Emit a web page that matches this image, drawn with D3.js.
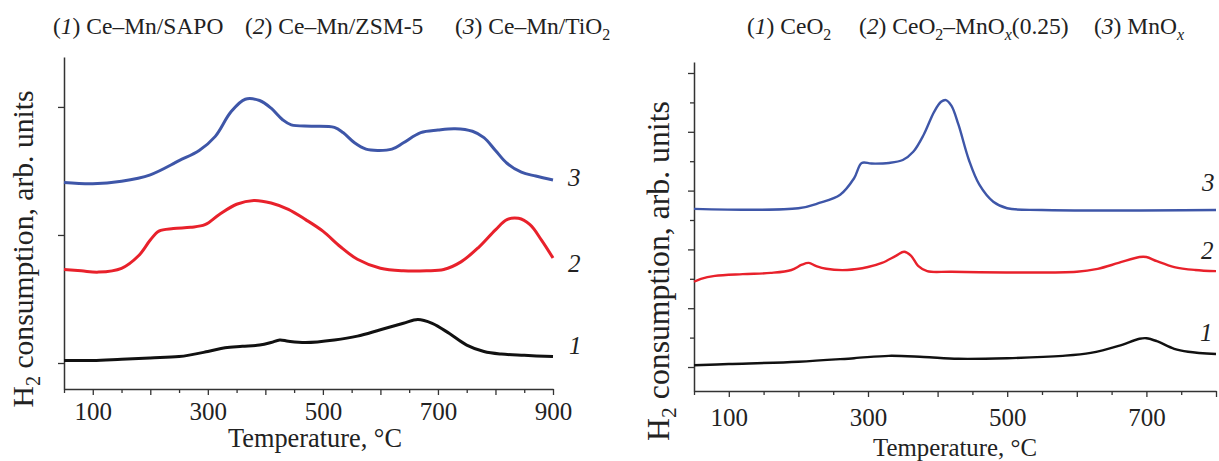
<!DOCTYPE html>
<html>
<head>
<meta charset="utf-8">
<script src="https://d3js.org/d3.v7.min.js"></script>
<style>
  html, body { margin: 0; padding: 0; background: #fff; }
  svg { display: block; font-family: "Liberation Serif", "Times New Roman", serif; }
</style>
</head>
<body>
<svg id="chart" width="1219" height="461"></svg>
<script>
// ---- Left panel: supported Ce–Mn catalysts (TPR-H2) ----
const leftTicks = [100, 300, 500, 700, 900];

const sapoTemp = [50, 100, 150, 200, 250, 300, 330, 360, 390, 410, 425, 440, 470, 520, 560, 600, 640, 665, 690, 720, 750, 780, 810, 850, 900];
const sapoSignal = [0.02, 0.02, 0.03, 0.04, 0.05, 0.09, 0.12, 0.13, 0.14, 0.16, 0.18, 0.17, 0.16, 0.18, 0.21, 0.26, 0.31, 0.34, 0.31, 0.23, 0.14, 0.09, 0.07, 0.06, 0.05];

const zsmTemp = [50, 80, 110, 150, 180, 200, 215, 240, 270, 295, 320, 350, 380, 410, 440, 470, 500, 530, 560, 600, 640, 680, 710, 740, 770, 800, 820, 840, 860, 880, 900];
const zsmSignal = [0.73, 0.72, 0.71, 0.74, 0.84, 0.96, 1.03, 1.05, 1.06, 1.08, 1.16, 1.24, 1.27, 1.25, 1.20, 1.12, 1.03, 0.91, 0.81, 0.74, 0.72, 0.72, 0.73, 0.79, 0.90, 1.04, 1.12, 1.13, 1.08, 0.96, 0.82];

const tioTemp = [50, 100, 150, 200, 250, 285, 313, 340, 365, 390, 410, 430, 445, 480, 520, 535, 555, 575, 595, 620, 640, 670, 700, 730, 760, 780, 800, 820, 845, 870, 900];
const tioSignal = [1.41, 1.40, 1.42, 1.47, 1.58, 1.66, 1.77, 1.96, 2.06, 2.05, 1.99, 1.90, 1.86, 1.85, 1.84, 1.80, 1.72, 1.67, 1.66, 1.67, 1.72, 1.80, 1.82, 1.83, 1.81, 1.76, 1.66, 1.56, 1.49, 1.46, 1.43];

// ---- Right panel: bulk oxides ----
const rightTicks = [100, 300, 500, 700];

const ceTemp = [50, 100, 200, 280, 330, 380, 430, 500, 580, 620, 660, 690, 700, 715, 740, 760, 800];
const ceSignal = [0.03, 0.05, 0.09, 0.15, 0.19, 0.17, 0.14, 0.15, 0.19, 0.24, 0.36, 0.48, 0.49, 0.44, 0.31, 0.26, 0.22];

const ceMnTemp = [50, 60, 80, 120, 160, 190, 205, 215, 225, 240, 270, 300, 320, 340, 352, 362, 372, 385, 420, 600, 630, 660, 690, 700, 715, 740, 770, 800];
const ceMnSignal = [1.45, 1.50, 1.55, 1.58, 1.60, 1.65, 1.74, 1.77, 1.72, 1.67, 1.65, 1.70, 1.77, 1.89, 1.96, 1.89, 1.72, 1.63, 1.62, 1.62, 1.67, 1.77, 1.87, 1.87, 1.80, 1.70, 1.65, 1.63];

const mnTemp = [50, 200, 230, 260, 280, 291, 305, 330, 350, 365, 380, 395, 405, 412, 420, 430, 445, 460, 480, 500, 550, 800];
const mnSignal = [2.69, 2.70, 2.79, 2.93, 3.21, 3.47, 3.46, 3.47, 3.52, 3.66, 3.95, 4.34, 4.51, 4.54, 4.44, 4.12, 3.52, 3.10, 2.81, 2.70, 2.67, 2.67];

const colors = { c1: "#111111", c2: "#e8212b", c3: "#3e56a8" };

const svg = d3.select("#chart");
const axisColor = "#333";

function zip(t, v) { return t.map((d, i) => [d, v[i]]); }

// Scale a text's font size so that its rendered length equals `target` px.
function fitText(sel, base, target) {
  sel.style("font-size", base + "px");
  const w = sel.node().getComputedTextLength();
  const fs = base * target / w;
  sel.style("font-size", fs + "px");
  sel.selectAll("tspan.sub").style("font-size", (fs * 0.68) + "px");
  return fs;
}

function drawPanel(cfg) {
  const g = svg.append("g");
  const x = d3.scaleLinear().domain(cfg.xDomain).range(cfg.xRange);
  const y = d3.scaleLinear().domain(cfg.yDomain).range(cfg.yRange);

  // x axis: minor ticks every 50, major every 100, labels every 200
  const xMinor = d3.range(cfg.xDomain[0], cfg.xDomain[1] + 1, 50);
  const xAxis = d3.axisBottom(x).tickValues(xMinor)
    .tickSize(0).tickFormat(d => cfg.xLabels.includes(d) ? d : "");
  const gx = g.append("g").attr("transform", `translate(0,${cfg.yRange[0]})`).call(xAxis);
  gx.select(".domain").attr("stroke", axisColor).attr("stroke-width", 1.5);
  gx.selectAll(".tick line")
    .attr("y2", d => d % 100 === 0 ? 6 : 4)
    .attr("stroke", axisColor).attr("stroke-width", 1.3);
  gx.selectAll(".tick text")
    .attr("y", cfg.xLabelOffset)
    .attr("fill", "#222")
    .style("font-size", cfg.tickFont + "px")
    .style("font-family", "Liberation Serif, serif");

  // y axis
  const yAxis = d3.axisLeft(y).tickValues(cfg.yTicks).tickSize(0).tickFormat("");
  const gy = g.append("g").attr("transform", `translate(${cfg.xRange[0]},0)`).call(yAxis);
  gy.select(".domain").attr("stroke", axisColor).attr("stroke-width", 1.5);
  gy.selectAll(".tick line")
    .attr("x2", d => cfg.yMajor(d) ? -6 : -4)
    .attr("stroke", axisColor).attr("stroke-width", 1.3);

  // curves
  const line = d3.line().x(d => x(d[0])).y(d => y(d[1])).curve(d3.curveCatmullRom.alpha(0.5));
  cfg.series.forEach(s => {
    g.append("path")
      .datum(zip(s.t, s.v))
      .attr("fill", "none")
      .attr("stroke", s.color)
      .attr("stroke-width", cfg.lineWidth)
      .attr("stroke-linejoin", "round")
      .attr("d", line);
    g.append("text")
      .attr("x", s.labelX).attr("y", s.labelY)
      .attr("fill", "#222")
      .style("font-size", "25px").style("font-style", "italic")
      .text(s.label);
  });

  // axis titles
  const xt = g.append("text")
    .attr("x", cfg.xTitle[0]).attr("y", cfg.xTitle[1])
    .attr("text-anchor", "middle").attr("fill", "#222")
    .text("Temperature, °C");
  fitText(xt, 22, cfg.xTitle[2]);

  const yt = g.append("text")
    .attr("transform", `translate(${cfg.yTitle[0]},${cfg.yTitle[1]}) rotate(-90)`)
    .attr("text-anchor", "middle").attr("fill", "#222");
  yt.append("tspan").text("H");
  yt.append("tspan").attr("class", "sub").attr("dy", 7).text("2");
  yt.append("tspan").attr("dy", -7).text(" consumption, arb. units");
  fitText(yt, 22, cfg.yTitle[2]);

  return { x, y };
}

drawPanel({
  xDomain: [50, 900], xRange: [64, 553],
  yDomain: [-0.203, 2.39], yRange: [389, 57],
  xLabels: leftTicks, xLabelOffset: 13, tickFont: 25,
  yTicks: [0, 1, 2], yMajor: () => true,
  lineWidth: 3,
  xTitle: [315, 447, 174], yTitle: [33, 249, 322],
  series: [
    { t: sapoTemp, v: sapoSignal, color: colors.c1, label: "1", labelX: 569, labelY: 354 },
    { t: zsmTemp, v: zsmSignal, color: colors.c2, label: "2", labelX: 568, labelY: 272 },
    { t: tioTemp, v: tioSignal, color: colors.c3, label: "3", labelX: 568, labelY: 186 }
  ]
});

drawPanel({
  xDomain: [50, 800], xRange: [694, 1216],
  yDomain: [-0.408, 5.187], yRange: [391, 62],
  xLabels: rightTicks, xLabelOffset: 17, tickFont: 25,
  yTicks: d3.range(0, 5.01, 0.5), yMajor: d => Number.isInteger(d),
  lineWidth: 2.4,
  xTitle: [955, 456, 164], yTitle: [669, 271, 345],
  series: [
    { t: ceTemp, v: ceSignal, color: colors.c1, label: "1", labelX: 1200, labelY: 341 },
    { t: ceMnTemp, v: ceMnSignal, color: colors.c2, label: "2", labelX: 1201, labelY: 259 },
    { t: mnTemp, v: mnSignal, color: colors.c3, label: "3", labelX: 1202, labelY: 191 }
  ]
});

// ---- Sample names above each panel ----
const legendFont = 23.5;
function legendItem(x, y, num, parts) {
  const t = svg.append("text").attr("x", x).attr("y", y).attr("fill", "#222")
    .style("font-size", legendFont + "px");
  t.append("tspan").text("(");
  t.append("tspan").style("font-style", "italic").text(num);
  t.append("tspan").text(") ");
  let shift = 0;
  parts.forEach(p => {
    if (p.sub) {
      t.append("tspan").attr("dy", 6 - shift)
        .style("font-size", (legendFont * 0.68) + "px")
        .style("font-style", p.italic ? "italic" : "normal").text(p.sub);
      shift = 6;
    } else {
      t.append("tspan").attr("dy", -shift).text(p.text);
      shift = 0;
    }
  });
}

legendItem(53, 34, "1", [{ text: "Ce–Mn/SAPO" }]);
legendItem(245, 34, "2", [{ text: "Ce–Mn/ZSM-5" }]);
legendItem(455, 34, "3", [{ text: "Ce–Mn/TiO" }, { sub: "2" }]);

legendItem(747, 34, "1", [{ text: "CeO" }, { sub: "2" }]);
legendItem(859, 34, "2", [{ text: "CeO" }, { sub: "2" }, { text: "–MnO" }, { sub: "x", italic: true }, { text: "(0.25)" }]);
legendItem(1094, 34, "3", [{ text: "MnO" }, { sub: "x", italic: true }]);
</script>
</body>
</html>
